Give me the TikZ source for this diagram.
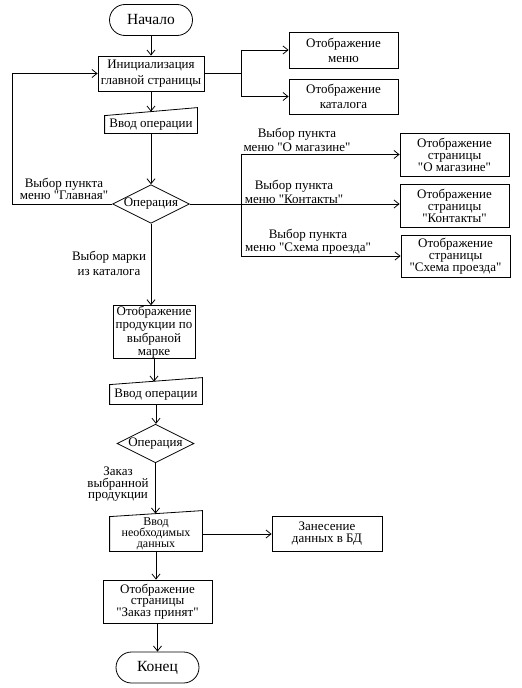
\documentclass[tikz,border=0pt]{standalone}
\usepackage{fontspec}
\setmainfont{Liberation Serif}[Ligatures=TeXOff]
\usetikzlibrary{arrows.meta,shapes.geometric}

\begin{document}
\begin{tikzpicture}[x=1pt, y=-1pt, line width=0.8pt,
    >={Straight Barb[length=5pt,width=8pt]},
    every node/.style={font=\fontsize{13}{14}\selectfont, align=center},
    termBox/.style={draw, rounded corners=15.5pt, minimum width=83pt, minimum height=31pt, font=\fontsize{15.5}{16}\selectfont},
    procBox/.style={draw, minimum width=109pt, inner sep=0pt},
    inputBox/.style={minimum width=92pt, inner sep=0pt},
    decision/.style={draw, diamond, aspect=2, inner sep=0pt, minimum width=77pt, minimum height=38pt},
    edgeLabel/.style={inner sep=0pt}]

    \useasboundingbox (0,0) rectangle (522,688);

    % Upper part
    \node[termBox] (start) at (151,20) {Начало};
    \node[procBox, minimum width=106pt, minimum height=35pt, font=\fontsize{13}{16}\selectfont] (init) at (151,73.5) {Инициализация\\главной страницы};
    \node[procBox, minimum height=36pt, font=\fontsize{13}{15}\selectfont] (menu) at (343.5,50) {Отображение\\меню};
    \node[procBox, minimum height=35pt, font=\fontsize{13}{15}\selectfont] (cat) at (343.5,96.5) {Отображение\\каталога};
    \node[inputBox, minimum height=17pt] (vv1) at (151,124.5) {Ввод операции};
    \node[decision] (d1) at (151,204) {Операция};

    % Pages of the menu
    \node[procBox, minimum height=43pt, font=\fontsize{13}{12}\selectfont] (mag) at (454.5,154.5) {Отображение\\страницы\\"О магазине"};
    \node[procBox, minimum height=43pt, font=\fontsize{13}{12}\selectfont] (kont) at (454.5,205.5) {Отображение\\страницы\\"Контакты"};
    \node[procBox, minimum height=42pt, font=\fontsize{13}{12}\selectfont] (sch) at (455.5,256) {Отображение\\страницы\\"Схема проезда"};

    % Lower part
    \node[procBox, minimum width=82pt, minimum height=52pt, font=\fontsize{13}{13.5}\selectfont] (prod) at (154,332) {Отображение\\продукции по\\выбраной\\марке};
    \node[inputBox, minimum height=19pt] (vv2) at (156,394.5) {Ввод операции};
    \node[decision] (d2) at (155.5,443.5) {Операция};
    \node[inputBox, minimum height=34pt, font=\fontsize{12}{11}\selectfont] (vv3) at (156,534) {Ввод\\необходимых\\данных};
    \node[procBox, minimum width=110pt, minimum height=35pt, font=\fontsize{13}{12.5}\selectfont] (db) at (327,533.5) {Занесение\\данных в БД};
    \node[procBox, minimum height=43pt, font=\fontsize{13}{11.5}\selectfont] (zak) at (157.5,601.5) {Отображение\\страницы\\"Заказ принят"};
    \node[termBox] (end) at (157.5,667.5) {Конец};

    % Manual input outlines
    \draw (vv1.south west) -- (vv1.north west) -- ([yshift=8pt]vv1.north east) -- (vv1.south east) -- cycle;
    \draw (vv2.south west) -- (vv2.north west) -- ([yshift=7pt]vv2.north east) -- (vv2.south east) -- cycle;
    \draw (vv3.south west) -- (vv3.north west) -- ([yshift=6pt]vv3.north east) -- (vv3.south east) -- cycle;

    % Labels
    \node[edgeLabel, font=\fontsize{13}{12}\selectfont] (lbMain) at (64,189) {Выбор пункта\\меню "Главная"};
    \node[edgeLabel] (lbMag) at (297,140) {Выбор пункта\\меню "О магазине"};
    \node[edgeLabel] (lbKont) at (294,192) {Выбор пункта\\меню "Контакты"};
    \node[edgeLabel, font=\fontsize{13}{13}\selectfont] (lbSch) at (308,241.5) {Выбор пункта\\меню "Схема проезда"};
    \node[edgeLabel, font=\fontsize{13}{15}\selectfont] (lbBrand) at (109,263.5) {Выбор марки\\из каталога};
    \node[edgeLabel, font=\fontsize{13}{11.5}\selectfont] (lbOrder) at (118,484.5) {Заказ\\выбранной\\продукции};

    % Branch points
    \coordinate (br1) at (241,73.5);
    \coordinate (br2) at (241,204);
    \coordinate (loopPt) at (12,204);

    % Connectors
    \draw[->] (start) -- (init);
    \draw (init.east) -- (br1);
    \draw[->] (br1) |- (menu.west);
    \draw[->] (br1) |- (cat.west);
    \draw[->] (init.south) -- ([yshift=4pt]vv1.north);
    \draw[->] (vv1.south) -- (d1.north);
    \draw[->] (d1.west) -- (loopPt) |- (init.west);
    \draw[->] (d1.east) -- (d1.east -| kont.west);
    \draw[->] (br2) |- (mag.west);
    \draw[->] (br2) |- (sch.west);
    \draw[->] (d1.south) -- (d1.south |- prod.north);
    \draw[->] (prod.south) -- ([yshift=3pt]prod.south |- vv2.north);
    \draw[->] (vv2.south) -- (vv2.south |- d2.north);
    \draw[->] (d2.south) -- ([yshift=3pt]d2.south |- vv3.north);
    \draw[->] (vv3.east) -- (vv3.east -| db.west);
    \draw[->] (vv3.south) -- (vv3.south |- zak.north);
    \draw[->] (zak) -- (end);

\end{tikzpicture}
\end{document}
